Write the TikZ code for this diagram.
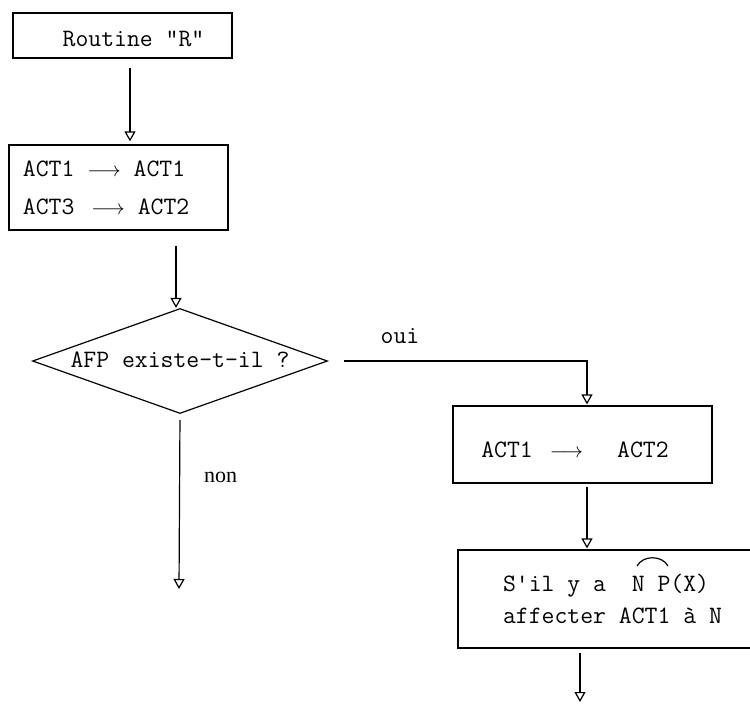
\documentclass[tikz,border=0pt]{standalone}
\usepackage{fontspec}
\newfontfamily\serifnon{Liberation Serif}
\usetikzlibrary{arrows.meta,shapes.geometric}
\newcommand\tw{\fontsize{25}{32}\selectfont\ttfamily}
\newcommand\sar{{\fontsize{21}{21}\selectfont$\longrightarrow$}}
\newcommand\tsp{\phantom{x}}
\begin{document}
\begin{tikzpicture}[x=1pt,y=-1pt,
  box/.style={draw, line width=1.2pt, rectangle, inner sep=0pt, font=\tw},
  arr/.style={draw, line width=1.2pt, -{Triangle[open,length=10pt,width=11pt,line width=1.2pt]}},
  lbl/.style={inner sep=0pt, anchor=base}]
\useasboundingbox (0,0) rectangle (750,704);
\fill[white] (0,0) rectangle (750,704);
\clip (0,0) rectangle (750,704);

% boxes
\node[box, minimum width=219pt, minimum height=45pt, text height=21pt, text depth=0pt]
  (r1) at (122.5,35.5) {\hspace*{22pt}Routine\tsp"R"};
\node[box, minimum width=219pt, minimum height=85pt, align=left, text width=191pt, inner xsep=14pt,
  font=\fontsize{25}{38}\selectfont\ttfamily]
  (r2) at (118.5,187.5) {ACT1\tsp\sar\tsp ACT1\\ACT3\hspace{17pt}\sar\tsp ACT2};
\node[box, diamond, aspect=3, minimum width=295pt, minimum height=105pt, text height=12pt, text depth=0pt]
  (d) at (180,361) {AFP\tsp existe-t-il\tsp ?};
\node[box, minimum width=259pt, minimum height=77pt, text height=25pt, text depth=0pt]
  (r3) at (582.5,444.5) {\hspace*{-15pt}ACT1\hspace{17pt}\sar\hspace{34pt}ACT2};
\node[box, minimum width=322pt, minimum height=98pt, align=left, text width=232pt, inner xsep=45pt,
  font=\fontsize{25}{32}\selectfont\ttfamily]
  (r4) at (619,599) {S'il\tsp y\tsp a\tsp\tsp N\tsp P(X)\\affecter\tsp ACT1\tsp à\tsp N};
% arc over N P
\draw[line width=1.2pt] (637,566) .. controls (643,555) and (662,555) .. (668,566);

% labels
\node[lbl, font=\tw] (oui) at (400,343) {oui};
\node[lbl, font=\fontsize{22}{22}\selectfont\serifnon] (non) at (220.5,482) {non};

% connectors
\coordinate (nonend) at (179,589);
\coordinate (fin) at (580,702);
\draw[arr, shorten <=9pt, shorten >=3pt] ([xshift=7.5pt]r1.south) -- ([xshift=11.5pt]r2.north);
\draw[arr, shorten <=15pt] ([xshift=-4pt]d.north |- r2.south) -- ([xshift=-4pt]d.north);
\draw[arr, shorten <=16pt, shorten >=1pt] (d.east) -| ([xshift=4.5pt]r3.north);
\draw[arr, shorten <=6pt] (d.south) -- (nonend);
\draw[arr, shorten <=3pt, shorten >=1pt] ([xshift=4.5pt]r3.south) -- ([xshift=4.5pt]r3.south |- r4.north);
\draw[arr, shorten <=4pt] (r4.south -| fin) -- (fin);
\end{tikzpicture}
\end{document}
